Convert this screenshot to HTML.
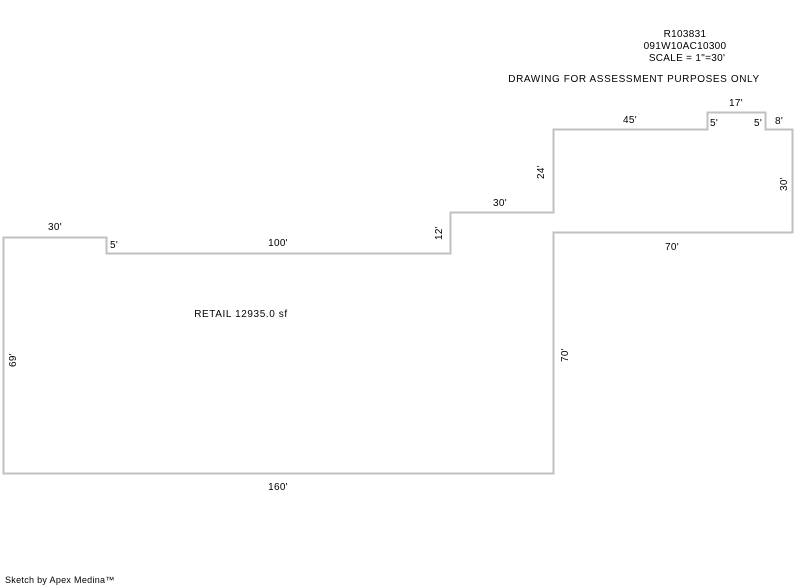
<!DOCTYPE html>
<html><head><meta charset="utf-8"><style>
html,body{margin:0;padding:0;background:#fff;width:800px;height:587px;overflow:hidden}
svg text{font-family:"Liberation Sans",Arial,sans-serif;font-size:10px;fill:#000;letter-spacing:0.3px}
</style></head><body>
<svg width="800" height="587" viewBox="0 0 800 587" xmlns="http://www.w3.org/2000/svg">
<polygon points="3.5,237.5 106.5,237.5 106.5,253.5 450.5,253.5 450.5,212.5 553.5,212.5 553.5,129.5 707.5,129.5 707.5,112.5 765.5,112.5 765.5,129.5 792.5,129.5 792.5,232.5 553.5,232.5 553.5,473.5 3.5,473.5" fill="none" stroke="#c0c0c0" stroke-width="2"/>
<text x="685" y="37" text-anchor="middle">R103831</text>
<text x="685" y="49" text-anchor="middle">091W10AC10300</text>
<text x="687" y="61" text-anchor="middle">SCALE = 1"=30'</text>
<text x="634" y="82" text-anchor="middle" style="letter-spacing:0.6px">DRAWING FOR ASSESSMENT PURPOSES ONLY</text>
<text x="736" y="106" text-anchor="middle">17'</text>
<text x="630" y="123" text-anchor="middle">45'</text>
<text x="714" y="126" text-anchor="middle">5'</text>
<text x="758" y="126" text-anchor="middle">5'</text>
<text x="779" y="124" text-anchor="middle">8'</text>
<text x="500" y="206" text-anchor="middle">30'</text>
<text x="55" y="230" text-anchor="middle">30'</text>
<text x="114" y="248" text-anchor="middle">5'</text>
<text x="278" y="246" text-anchor="middle">100'</text>
<text x="672" y="250" text-anchor="middle">70'</text>
<text x="241" y="317" text-anchor="middle" style="letter-spacing:0.6px">RETAIL 12935.0 sf</text>
<text x="278" y="490" text-anchor="middle">160'</text>
<text x="5" y="583" style="font-size:9px">Sketch by Apex Medina™</text>
<text transform="translate(544,172) rotate(-90)" text-anchor="middle">24'</text>
<text transform="translate(442,233) rotate(-90)" text-anchor="middle">12'</text>
<text transform="translate(787,184) rotate(-90)" text-anchor="middle">30'</text>
<text transform="translate(568,355) rotate(-90)" text-anchor="middle">70'</text>
<text transform="translate(16,360) rotate(-90)" text-anchor="middle">69'</text>
</svg>
</body></html>
